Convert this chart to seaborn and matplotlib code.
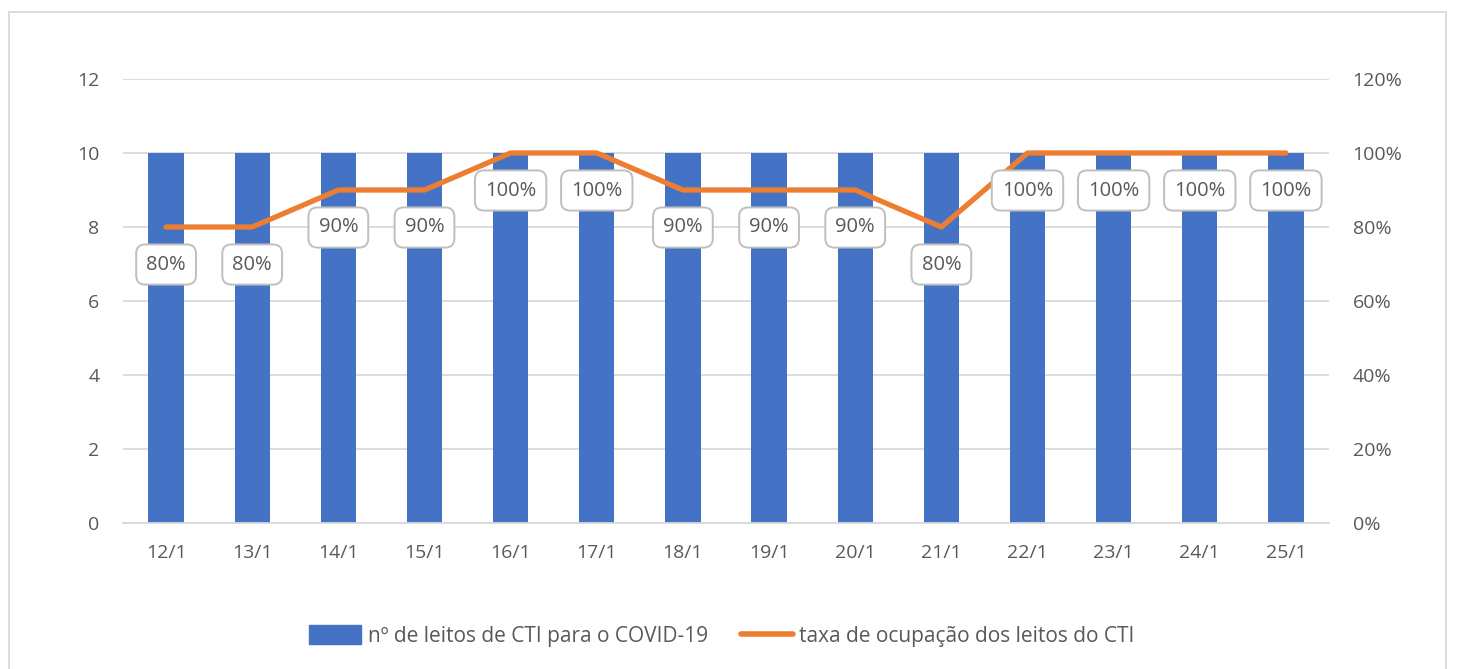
import pandas as pd
import matplotlib.pyplot as plt
import matplotlib.patches as mpatches
import matplotlib.lines as mlines
from matplotlib.ticker import FuncFormatter
import seaborn as sns

# Data
dates = ['12/1', '13/1', '14/1', '15/1', '16/1', '17/1', '18/1',
         '19/1', '20/1', '21/1', '22/1', '23/1', '24/1', '25/1']
leitos = [10, 10, 10, 10, 10, 10, 10, 10, 10, 10, 10, 10, 10, 10]
taxa = [0.8, 0.8, 0.9, 0.9, 1.0, 1.0, 0.9, 0.9, 0.9, 0.8, 1.0, 1.0, 1.0, 1.0]

bar_label = 'nº de leitos de CTI para o COVID-19'
line_label = 'taxa de ocupação dos leitos do CTI'

df = pd.DataFrame({'data': dates, 'leitos': leitos, 'taxa': taxa})

sns.set_style('white')
plt.rcParams['font.family'] = ['Open Sans', 'DejaVu Sans']
text_col = '#595959'
grid_col = '#D9D9D9'
blue = '#4472C4'
orange = '#ED7D31'

fig = plt.figure(figsize=(14.57, 6.69), dpi=100)
ax = fig.add_axes([123 / 1457, 1 - 523 / 669, (1329 - 123) / 1457, (523 - 79) / 669])

# bars
sns.barplot(data=df, x='data', y='leitos', color=blue, width=0.41,
            saturation=1, linewidth=0, ax=ax, zorder=2)
ax.set_ylim(0, 12)
ax.set_yticks(range(0, 13, 2))
ax.set_xlim(-0.5, len(dates) - 0.5)
ax.grid(axis='y', color=grid_col, linewidth=1.3, zorder=0)
ax.set_axisbelow(True)
for s in ax.spines.values():
    s.set_visible(False)
ax.spines['bottom'].set_visible(True)
ax.spines['bottom'].set_color(grid_col)
ax.spines['bottom'].set_linewidth(1.3)
ax.set_xlabel('')
ax.set_ylabel('')
ax.tick_params(axis='both', length=0, labelsize=14, colors=text_col, pad=15)
ax.tick_params(axis='y', pad=17)

# line on secondary axis
ax2 = ax.twinx()
sns.pointplot(data=df, x='data', y='taxa', color=orange, markers='',
              linestyles='-', ax=ax2, zorder=3)
for ln in ax2.lines:
    ln.set_linewidth(3.8)
    ln.set_solid_capstyle('round')
ax2.set_ylim(0, 1.2)
ax2.set_yticks([i / 10 for i in range(0, 13, 2)])
ax2.yaxis.set_major_formatter(FuncFormatter(lambda v, p: f'{v:.0%}'))
ax2.set_xlim(-0.5, len(dates) - 0.5)
for s in ax2.spines.values():
    s.set_visible(False)
ax2.set_ylabel('')
ax2.set_xlabel('')
ax2.tick_params(axis='y', length=0, labelsize=14, colors=text_col, pad=17)

# data labels below the points
for i, v in enumerate(taxa):
    ax2.annotate(f'{v:.0%}', xy=(i, v), xytext=(0, -27), textcoords='offset points',
                 ha='center', va='center', fontsize=14.5, color=text_col, zorder=5,
                 bbox=dict(boxstyle='round,pad=0.5,rounding_size=0.45',
                           fc='white', ec='#BFBFBF', lw=1.4))

# legend
handles = [mpatches.Patch(color=blue, label=bar_label),
           mlines.Line2D([], [], color=orange, lw=4, label=line_label)]
leg = fig.legend(handles=handles, loc='center', bbox_to_anchor=(0.4955, 1 - 636 / 669),
                 ncol=2, frameon=False, fontsize=15, handlelength=2.5,
                 handleheight=1.0, handletextpad=0.3, columnspacing=1.6)
for t in leg.get_texts():
    t.set_color(text_col)

# chart frame
fig.patches.append(mpatches.Rectangle((9 / 1457, -0.05), (1446 - 9) / 1457, 1.05 - 12 / 669,
                                      transform=fig.transFigure, fill=False,
                                      ec=grid_col, lw=1.3))

fig.savefig('out.png', dpi=100)
